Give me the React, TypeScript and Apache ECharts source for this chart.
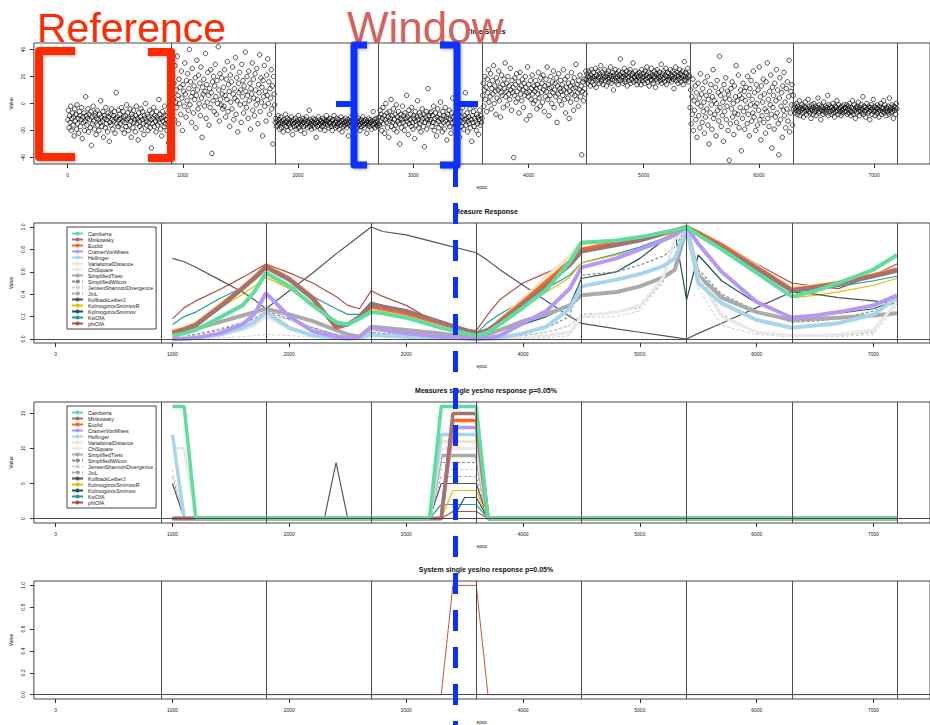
import React, { useEffect, useRef } from "react";
import * as echarts from "echarts";

const FONT = '"Liberation Sans", Arial, Helvetica, sans-serif';

// ---------- Panel 1: time series (values read per 900-epoch segment) ----------
const segStarts = [0, 900, 1800, 2700, 3600, 4500, 5400, 6300];
const segLength = 900;
const tsSeg1 = [-12,-5,-18,-9,-14,-2,-20,-11,-7,-16,-10,-24,-4,-13,-8,-19,-1,-15,-11,-22,-6,-9,-17,-12,-3,-26,-10,-14,-7,-20,-13,5,-9,-16,-11,-4,-21,-8,-12,-18,-6,-31,-10,-15,-2,-13,-19,-9,-7,-23,-11,-5,-16,-12,-20,-8,-14,2,-10,-17,-13,-6,-25,-9,-11,-18,-3,-15,-12,-21,-7,-10,-28,-14,-8,-16,-4,-12,-19,-9,-13,-6,-22,-11,8,-15,-10,-17,-5,-12,
  -8,-15,-11,-3,-19,-13,-6,-10,-22,-14,-9,-17,-1,-12,-7,-20,-11,-16,-4,-13,-25,-8,-10,-18,-5,-14,-12,-21,-9,-2,-15,-11,-27,-7,-13,-17,-10,-4,-19,-12,-6,-15,-23,-9,-11,0,-16,-13,-8,-20,-10,-14,-5,-18,-12,-33,-7,-15,-11,-3,-17,-9,-13,-21,-6,-10,-16,-12,3,-14,-8,-19,-11,-24,-6,-13,-10,-17,-2,-15,-9,-12,-20,-7,-14,-29,-11,-5,-16,-10];
const tsSeg2 = [8,-6,20,3,15,-12,28,1,10,-3,35,6,-15,18,0,12,-8,24,4,-20,14,9,-2,30,7,-10,17,2,22,-5,11,40,-1,16,5,-14,26,8,-7,13,3,19,-18,6,32,10,-4,21,0,15,-9,27,4,-25,12,7,18,-2,9,37,-11,14,1,23,6,-16,11,-3,25,8,-37,16,2,20,-6,13,29,5,-8,17,0,42,10,-13,22,3,-1,19,7,-4,
  12,-2,25,6,-10,18,3,31,-6,14,9,-17,21,1,16,-4,27,7,-12,11,4,34,-8,19,2,-21,15,8,23,-1,10,-14,29,5,17,-7,13,0,38,9,-3,20,6,-11,24,2,15,-19,11,7,30,-5,18,4,-9,22,10,-1,26,3,-15,14,8,36,-6,19,1,12,-24,17,5,28,-2,9,-13,21,6,33,0,16,-8,11,4,25,-4,13,-30,20,7,-1];
const tsSeg3 = [-14,-11,-17,-13,-16,-9,-15,-12,-19,-14,-10,-18,-13,-15,-21,-12,-16,-14,-8,-17,-13,-11,-20,-15,-12,-16,-14,-18,-10,-13,-23,-15,-12,-17,-14,-11,-19,-16,-13,-15,-9,-18,-14,-12,-20,-16,-13,-15,-11,-17,-14,-22,-12,-16,-10,-15,-18,-13,-14,-5,-17,-12,-15,-19,-13,-16,-11,-14,-18,-12,-15,-25,-13,-17,-14,-10,-16,-12,-19,-15,-13,-17,-11,-14,-16,-12,-20,-15,-13,-9,
  -13,-16,-12,-18,-14,-11,-15,-17,-13,-20,-12,-15,-9,-16,-14,-18,-13,-11,-17,-15,-12,-19,-14,-16,-10,-13,-21,-15,-12,-17,-14,-16,-11,-13,-18,-15,-12,-24,-14,-16,-13,-10,-17,-15,-12,-19,-14,-13,-16,-8,-15,-12,-18,-14,-11,-16,-13,-20,-15,-12,-17,-14,-10,-16,-13,-18,-15,-12,-14,-22,-13,-16,-11,-15,-17,-12,-14,-19,-13,-16,-6,-15,-12,-18,-14,-11,-16,-13,-17,-15];
const tsSeg4 = [-10,-16,-5,-13,-8,-20,-11,-3,-15,-9,-22,-12,0,-14,-7,-18,-10,-25,-6,-13,-11,3,-17,-9,-14,-4,-19,-12,-8,-16,-1,-21,-10,-13,-6,-15,-30,-11,-8,-18,-12,-2,-14,-9,-20,-7,-16,-11,6,-13,-10,-23,-5,-15,-12,-8,-17,-3,-14,-19,-9,-11,-26,-6,-13,-16,-10,2,-12,-18,-7,-15,-9,-21,-13,-4,-11,-17,-8,-32,-14,-10,-6,-19,-12,11,-15,-9,-13,-7,
  -12,-6,-17,-9,-14,-2,-20,-11,-7,-15,-24,-10,-4,-13,-18,-8,-11,1,-16,-12,-21,-6,-14,-9,-19,-3,-13,-10,-27,-8,-15,-11,-5,-17,-12,-22,-7,-14,4,-10,-18,-13,-9,-16,-1,-12,-20,-8,-15,-11,-25,-6,-13,-17,-10,-3,-14,-19,-9,-12,8,-16,-11,-7,-21,-13,-10,-15,-4,-18,-12,-28,-9,-14,-6,-17,-11,-2,-13,-20,-8,-15,-10,-23,-12,-5,-16,-9,-14,-11];
const tsSeg5 = [6,15,-2,10,20,3,12,-6,18,8,25,1,14,5,22,-4,11,17,7,28,0,13,9,-8,19,4,16,10,24,2,12,-10,8,21,6,14,-3,18,11,30,5,9,15,-1,20,7,13,3,26,10,-5,17,8,12,-40,6,19,14,1,22,9,4,16,-7,11,23,7,13,2,18,10,-3,15,6,20,12,-12,8,27,5,14,9,-9,17,3,11,21,7,0,13,
  9,2,17,11,-4,14,7,23,4,12,-2,19,8,15,1,21,10,-6,13,5,18,9,27,3,14,-9,11,6,20,12,0,16,8,24,-3,10,15,5,19,-14,13,7,22,2,11,17,9,-1,14,6,25,10,3,18,-7,12,8,20,4,15,-11,9,13,1,23,7,16,11,-5,19,6,12,29,3,14,8,-2,17,10,21,5,13,-38,9,16,2,18,11,7,24];
const tsSeg6 = [18,22,15,20,24,17,19,13,21,25,16,19,23,14,20,18,26,12,21,17,24,19,15,22,20,28,16,18,23,14,21,19,25,17,20,13,22,18,24,16,19,21,27,15,20,18,23,10,21,17,25,19,16,22,20,14,24,18,21,33,17,19,23,15,20,22,26,16,18,21,24,13,19,20,17,23,25,15,21,18,22,30,16,20,19,24,17,21,14,22,
  20,16,23,18,21,14,25,19,17,22,20,15,24,18,21,27,16,19,23,13,20,22,18,26,17,21,15,19,24,20,12,22,18,25,16,21,19,23,17,20,29,15,22,18,24,19,16,21,26,14,20,23,18,22,17,19,25,21,16,20,24,18,11,22,19,27,17,21,23,15,20,18,25,22,16,19,21,24,14,20,31,18,23,17,22,19,26,16,21,20];
const tsSeg7 = [-3,10,-15,5,-8,18,-20,2,-5,13,-12,8,-25,0,15,-9,4,-18,22,-2,7,-14,11,-6,1,-22,16,-10,6,-4,20,-16,3,-30,9,-7,14,-1,-19,5,25,-11,2,-8,12,-24,0,17,-5,8,-13,35,-3,6,-17,10,-9,1,-28,14,-6,4,19,-12,-2,9,-20,7,-42,3,-15,11,-4,16,-10,0,-23,13,-7,5,28,-14,2,-8,21,-18,6,-3,10,-35,
  4,-11,15,-6,9,-19,2,12,-3,-15,20,-8,6,-24,11,-1,17,-13,3,-7,24,-10,8,-2,-20,14,0,-16,10,-5,27,-12,5,-27,13,-9,1,18,-14,7,-4,-22,16,-6,30,-11,3,-17,9,-1,21,-8,-33,12,-3,6,-19,15,-10,2,25,-7,10,-15,-38,4,19,-12,-2,8,-25,13,-5,23,-9,1,-18,11,-4,16,-13,5,32,-21,-7,9,-1,14,-16,6];
const tsSeg8 = [-4,-1,-7,-3,-5,0,-8,-2,-6,-4,2,-9,-3,-5,-1,-7,-4,-10,-2,-6,1,-3,-8,-5,-4,3,-6,-2,-7,-4,-11,-1,-5,-3,-8,0,-6,-4,-2,-9,-5,-3,4,-7,-1,-6,-4,-12,-2,-5,-3,-8,1,-6,-4,-2,-7,-5,-3,6,-9,-1,-4,-6,-2,-8,-3,-5,0,-7,-4,-10,-2,-6,-3,2,-5,-8,-1,-4,-6,-3,-9,-2,-5,-7,-4,-1,-6,-3,
  -3,-6,-1,-8,-4,-2,-7,0,-5,-9,-3,-6,2,-4,-8,-1,-5,-11,-3,-7,-2,-4,1,-6,-9,-3,-5,-1,-7,-4,5,-8,-2,-6,-3,-10,-5,0,-4,-7,-2,-6,-12,-3,-5,-1,-8,-4,3,-6,-2,-9,-5,-3,-7,-1,-4,-6,-10,-2,-5,0,-8,-3,-6,-4,2,-7,-1,-5,-9,-3,-4,-6,-2,-8,4,-5,-3,-7,-1,-6,-4,-11,-2,-5,-3,-8,0,-4];
const tsSegments = [tsSeg1, tsSeg2, tsSeg3, tsSeg4, tsSeg5, tsSeg6, tsSeg7, tsSeg8];

const changePoints = [900, 1800, 2700, 3600, 4500, 5400, 6300, 7200];
const xTicks = [0, 1000, 2000, 3000, 4000, 5000, 6000, 7000];
const yTicksTS = [-40, -20, 0, 20, 40];
const yTicksUnit = [0, 0.2, 0.4, 0.6, 0.8, 1.0];
const yTicksCount = [0, 5, 10, 15];

// ---------- Measures ----------
const measureNames = [
  "Camberra", "Minkowsky", "Euclid", "CramerVonMises", "Hellinger", "VariationalDistance",
  "ChiSquare", "SimplifiedTtest", "SimplifiedWilcox", "JensenShannonDivergence", "JinL",
  "KullbackLeiberJ", "KolmogorovSmirnovR", "KolmogorovSmirnov", "KsiOfA", "phiOfA",
];

// Panel 2: Measure Response
const respX = [1000,1100,1200,1400,1600,1700,1800,2000,2200,2400,2500,2600,2700,2800,3000,3300,3600,3700,3800,4000,4200,4400,4500,4800,5000,5200,5300,5400,5500,5700,6000,6300,6500,6700,7000,7200];
const respCamberra = [0.03,0.05,0.08,0.19,0.30,0.42,0.59, 0.47,0.30,0.15,0.13,0.18,0.24, 0.23,0.19,0.10,0.03, 0.06,0.13,0.28,0.44,0.69,0.86, 0.88,0.91,0.95,0.97,1.00, 0.93,0.80,0.59,0.38, 0.43,0.50,0.62,0.75];
const respMinkowsky = [0.05,0.08,0.12,0.28,0.45,0.54,0.64, 0.53,0.36,0.11,0.13,0.20,0.31, 0.29,0.25,0.15,0.05, 0.08,0.15,0.31,0.48,0.66,0.78, 0.84,0.88,0.94,0.97,1.00, 0.94,0.82,0.63,0.43, 0.46,0.49,0.56,0.61];
const respEuclid = [0.06,0.09,0.13,0.29,0.46,0.55,0.65, 0.54,0.37,0.10,0.13,0.19,0.29, 0.27,0.23,0.14,0.04, 0.07,0.16,0.33,0.51,0.69,0.80, 0.86,0.90,0.95,0.97,1.00, 0.95,0.84,0.64,0.44, 0.47,0.50,0.57,0.62];
const respCramerVonMises = [0.00,0.00,0.01,0.05,0.13,0.22,0.41, 0.20,0.07,0.02,0.01,0.02,0.10, 0.08,0.05,0.02,0.00, 0.01,0.03,0.14,0.25,0.45,0.64, 0.72,0.80,0.88,0.93,1.00, 0.85,0.60,0.33,0.19, 0.21,0.24,0.30,0.39];
const respHellinger = [0.00,0.00,0.01,0.04,0.10,0.15,0.24, 0.10,0.03,0.01,0.00,0.01,0.04, 0.03,0.02,0.01,0.00, 0.00,0.01,0.05,0.11,0.27,0.47, 0.53,0.58,0.65,0.72,1.00, 0.50,0.32,0.17,0.10, 0.12,0.14,0.22,0.37];
const respVariationalDistance = [0.07,0.10,0.14,0.30,0.45,0.53,0.62, 0.52,0.35,0.12,0.13,0.19,0.28, 0.26,0.22,0.13,0.04, 0.07,0.17,0.35,0.55,0.74,0.86, 0.87,0.90,0.95,0.97,1.00, 0.94,0.84,0.65,0.45, 0.47,0.51,0.57,0.63];
const respChiSquare = [0.00,0.01,0.01,0.03,0.08,0.12,0.20, 0.09,0.03,0.01,0.00,0.01,0.03, 0.03,0.02,0.01,0.00, 0.00,0.00,0.01,0.03,0.06,0.20, 0.24,0.30,0.55,0.90,1.00, 0.55,0.20,0.06,0.03, 0.03,0.04,0.08,0.33];
const respSimplifiedTtest = [0.03,0.06,0.09,0.15,0.21,0.24,0.27, 0.22,0.16,0.08,0.04,0.02,0.11, 0.10,0.08,0.05,0.01, 0.04,0.08,0.16,0.22,0.30,0.39, 0.42,0.47,0.55,0.62,1.00, 0.57,0.37,0.24,0.17, 0.18,0.19,0.21,0.23];
const respSimplifiedWilcox = [0.01,0.02,0.04,0.08,0.14,0.18,0.25, 0.18,0.10,0.04,0.02,0.02,0.06, 0.05,0.04,0.02,0.00, 0.01,0.02,0.05,0.10,0.20,0.57, 0.60,0.66,0.74,0.82,1.00, 0.62,0.40,0.25,0.15, 0.16,0.18,0.25,0.33];
const respJensenShannon = [0.00,0.00,0.00,0.01,0.02,0.03,0.04, 0.03,0.02,0.01,0.00,0.00,0.02, 0.02,0.01,0.00,0.00, 0.00,0.00,0.00,0.01,0.03,0.19, 0.20,0.25,0.50,0.92,1.00, 0.45,0.12,0.04,0.02, 0.02,0.02,0.04,0.30];
const respJinL = [0.01,0.02,0.04,0.09,0.15,0.18,0.23, 0.17,0.10,0.04,0.02,0.02,0.05, 0.04,0.03,0.01,0.00, 0.00,0.01,0.03,0.06,0.12,0.22, 0.24,0.28,0.52,0.88,1.00, 0.60,0.22,0.06,0.03, 0.03,0.03,0.06,0.35];
const respKullbackLeiberJ = [0.72,0.69,0.64,0.53,0.42,0.35,0.27, 0.43,0.59,0.76,0.84,0.92,1.00, 0.96,0.93,0.85,0.77, 0.70,0.62,0.48,0.34,0.20,0.14, 0.09,0.06,0.03,0.015,0.00, 0.05,0.14,0.28,0.42, 0.40,0.37,0.34,0.31];
const respKolmogorovSmirnovR = [0.06,0.09,0.13,0.27,0.40,0.47,0.55, 0.45,0.32,0.15,0.14,0.20,0.28, 0.26,0.22,0.13,0.04, 0.10,0.17,0.30,0.42,0.55,0.68, 0.75,0.80,0.90,0.95,1.00, 0.92,0.80,0.60,0.37, 0.39,0.42,0.48,0.54];
const respKolmogorovSmirnov = [0.05,0.08,0.12,0.27,0.44,0.53,0.63, 0.52,0.35,0.12,0.13,0.20,0.30, 0.28,0.24,0.14,0.05, 0.05,0.08,0.13,0.20,0.30,0.54, 0.60,0.72,0.88,0.95,0.35, 0.75,0.52,0.32,0.20, 0.21,0.23,0.27,0.35];
const respKsiOfA = [0.13,0.20,0.24,0.36,0.46,0.52,0.60, 0.48,0.38,0.27,0.22,0.22,0.33, 0.30,0.25,0.12,0.05, 0.15,0.22,0.34,0.45,0.57,0.68, 0.76,0.82,0.90,0.95,1.00, 0.93,0.82,0.62,0.42, 0.44,0.47,0.52,0.56];
const respPhiOfA = [0.18,0.28,0.34,0.44,0.55,0.61,0.67, 0.59,0.50,0.38,0.30,0.27,0.43, 0.38,0.30,0.12,0.075, 0.22,0.35,0.50,0.59,0.68,0.78, 0.85,0.90,0.95,0.97,1.00, 0.94,0.85,0.67,0.50, 0.47,0.45,0.57,0.67];
const respValues = [respCamberra, respMinkowsky, respEuclid, respCramerVonMises, respHellinger, respVariationalDistance, respChiSquare, respSimplifiedTtest, respSimplifiedWilcox, respJensenShannon, respJinL, respKullbackLeiberJ, respKolmogorovSmirnovR, respKolmogorovSmirnov, respKsiOfA, respPhiOfA];

// Panel 3: Measures single yes/no response
const yesX = [1000, 1100, 1200, 2300, 2400, 2500, 3200, 3300, 3400, 3500, 3600, 3700, 7200];
const yesCamberra = [16,16,0,0,0,0,0,16,16,16,16,0,0];
const yesMinkowsky = [0,0,0,0,0,0,0,0,15,15,15,0,0];
const yesEuclid = [0,0,0,0,0,0,0,0,14,14,14,0,0];
const yesCramerVonMises = [0,0,0,0,0,0,0,0,13,13,13,0,0];
const yesHellinger = [12,0,0,0,0,0,0,12,12,12,12,0,0];
const yesVariationalDistance = [0,0,0,0,0,0,0,11,11,11,11,0,0];
const yesChiSquare = [10,10,0,0,0,0,0,10,10,10,10,0,0];
const yesSimplifiedTtest = [0,0,0,0,0,0,0,9,9,9,9,0,0];
const yesSimplifiedWilcox = [0,0,0,0,0,0,0,8,8,8,8,0,0];
const yesJensenShannon = [7,0,0,0,0,0,0,7,7,7,7,0,0];
const yesJinL = [6,0,0,0,0,0,0,6,6,6,6,0,0];
const yesKullbackLeiberJ = [5,0,0,0,8,0,0,5,5,5,5,0,0];
const yesKolmogorovSmirnovR = [0,0,0,0,0,0,0,0,4,4,4,0,0];
const yesKolmogorovSmirnov = [0,0,0,0,0,0,0,0,0,3,3,0,0];
const yesKsiOfA = [0,0,0,0,0,0,0,2,2,2,2,0,0];
const yesPhiOfA = [0,0,0,0,0,0,0,0,1,1,1,0,0];
const yesValues = [yesCamberra, yesMinkowsky, yesEuclid, yesCramerVonMises, yesHellinger, yesVariationalDistance, yesChiSquare, yesSimplifiedTtest, yesSimplifiedWilcox, yesJensenShannon, yesJinL, yesKullbackLeiberJ, yesKolmogorovSmirnovR, yesKolmogorovSmirnov, yesKsiOfA, yesPhiOfA];

// Panel 4: System single yes/no response
const sysX = [1000, 3300, 3400, 3600, 3700, 7200];
const sysY = [0, 0, 1, 1, 0, 0];

// ---------- Styles ----------
const measureStyles = [
  { color: "#5fdc9e", width: 4, type: "solid" },
  { color: "#a07474", width: 4, type: "solid" },
  { color: "#ff6a1a", width: 4, type: "solid" },
  { color: "#b797f5", width: 4, type: "solid" },
  { color: "#a8d5eb", width: 4, type: "solid" },
  { color: "#efe6c6", width: 4, type: "solid" },
  { color: "#e9e9e9", width: 3, type: "solid" },
  { color: "#aaaaaa", width: 4, type: "solid" },
  { color: "#8a8a8a", width: 1.2, type: [3, 2] },
  { color: "#cfcfcf", width: 1, type: [3, 2] },
  { color: "#a5a5a5", width: 1, type: [3, 2] },
  { color: "#555555", width: 1.2, type: "solid" },
  { color: "#e2bf00", width: 1.2, type: "solid" },
  { color: "#1d5656", width: 1.2, type: "solid" },
  { color: "#1f9e9e", width: 1.2, type: "solid" },
  { color: "#b0504a", width: 1.2, type: "solid" },
];

const panels = [
  { top: 43, height: 121, xmin: -292, xmax: 7485, ymin: -44.8, ymax: 44.8, yticks: yTicksTS, fmt: (v: number) => String(v), title: "Time Series" },
  { top: 223, height: 120, xmin: -186, xmax: 7483, ymin: -0.036, ymax: 1.036, yticks: yTicksUnit, fmt: (v: number) => v.toFixed(1), title: "Measure Response" },
  { top: 402, height: 121, xmin: -186, xmax: 7483, ymin: -0.64, ymax: 16.64, yticks: yTicksCount, fmt: (v: number) => String(v), title: "Measures single yes/no response p=0.05%" },
  { top: 581, height: 121, xmin: -186, xmax: 7483, ymin: -0.04, ymax: 1.04, yticks: yTicksUnit, fmt: (v: number) => v.toFixed(1), title: "System single yes/no response p=0.05%" },
];

function refLines(withZero: boolean) {
  return {
    silent: true,
    symbol: "none",
    animation: false,
    label: { show: false },
    lineStyle: { color: "#4a4a4a", width: 1, type: "solid" },
    data: [
      ...changePoints.map((x) => ({ xAxis: x })),
      ...(withZero ? [{ yAxis: 0 }] : []),
    ],
  };
}

function buildOption() {
  const grid = panels.map((p) => ({
    left: 33, top: p.top, width: 906, height: p.height,
    show: true, borderColor: "#444", borderWidth: 1, backgroundColor: "rgba(0,0,0,0)",
  }));
  const xAxis = panels.map((p, i) => ({
    type: "value", gridIndex: i, min: p.xmin, max: p.xmax,
    axisLine: { show: false, onZero: false }, splitLine: { show: false },
    axisTick: { show: true, length: 4, customValues: xTicks, lineStyle: { color: "#333" } },
    axisLabel: { customValues: xTicks, fontSize: 5, color: "#222", margin: 8, fontFamily: FONT, formatter: (v: number) => String(v) },
    name: "epoc", nameLocation: "middle", nameGap: 20,
    nameTextStyle: { fontSize: 5, color: "#222", fontFamily: FONT },
  }));
  const yAxis = panels.map((p, i) => ({
    type: "value", gridIndex: i, min: p.ymin, max: p.ymax,
    axisLine: { show: false, onZero: false }, splitLine: { show: false },
    axisTick: { show: true, length: 4, customValues: p.yticks, lineStyle: { color: "#333" } },
    axisLabel: { customValues: p.yticks, rotate: 90, fontSize: 5, color: "#222", margin: 8, fontFamily: FONT, formatter: p.fmt },
    name: "Value", nameLocation: "middle", nameGap: 18,
    nameTextStyle: { fontSize: 5, color: "#222", fontFamily: FONT },
  }));

  const series: any[] = [];
  series.push({
    type: "scatter", xAxisIndex: 0, yAxisIndex: 0, silent: true,
    symbol: "circle", symbolSize: 4.5,
    itemStyle: { color: "rgba(0,0,0,0)", borderColor: "#000", borderWidth: 0.85 },
    data: tsSegments.flatMap((seg, k) =>
      seg.map((v, i) => [segStarts[k] + ((i + 0.5) * segLength) / seg.length, v])
    ),
    markLine: refLines(false),
  });

  for (let k = measureNames.length - 1; k >= 0; k--) {
    const st = measureStyles[k];
    series.push({
      name: measureNames[k], type: "line", xAxisIndex: 1, yAxisIndex: 1,
      symbol: "none", silent: true, z: k === 0 ? 3 : 2,
      lineStyle: { color: st.color, width: st.width, type: st.type },
      itemStyle: { color: st.color },
      data: respX.map((x, i) => [x, respValues[k][i]]),
      ...(k === measureNames.length - 1 ? { markLine: refLines(true) } : {}),
    });
  }
  for (let k = measureNames.length - 1; k >= 0; k--) {
    const st = measureStyles[k];
    series.push({
      name: measureNames[k], type: "line", xAxisIndex: 2, yAxisIndex: 2,
      symbol: "none", silent: true, z: k === 0 ? 3 : 2,
      lineStyle: { color: st.color, width: st.width === 4 ? 3.5 : st.width, type: st.type },
      itemStyle: { color: st.color },
      data: yesX.map((x, i) => [x, yesValues[k][i]]),
      ...(k === 0 ? { markLine: refLines(true) } : {}),
    });
  }
  series.push({
    name: "System", type: "line", xAxisIndex: 3, yAxisIndex: 3,
    symbol: "none", silent: true,
    lineStyle: { color: "#c8553d", width: 1 },
    data: sysX.map((x, i) => [x, sysY[i]]),
    markLine: refLines(true),
  });

  const legendBase = {
    show: true, orient: "vertical", left: 67,
    padding: [4, 3, 3, 4], itemGap: 1, itemWidth: 11, itemHeight: 5,
    borderColor: "#444", borderWidth: 1, backgroundColor: "#fff",
    selectedMode: false,
    textStyle: { fontSize: 5.3, color: "#222", fontFamily: FONT },
    data: measureNames,
  };
  const legend = [
    { ...legendBase, top: 227 },
    { ...legendBase, top: 406 },
  ];

  const titleTexts = panels.map((p) => ({
    type: "text", x: 486, y: p.top - 12, z: 50, silent: true,
    style: { text: p.title, fontSize: 7, fontWeight: "bold", fontFamily: FONT, fill: "#111", align: "center", verticalAlign: "middle" },
  }));

  const shadow = { shadowBlur: 3, shadowColor: "rgba(0,0,0,0.3)", shadowOffsetX: 1, shadowOffsetY: 1 };
  const red = "#ff2a00";
  const blue = "#0a30ff";
  const annotations = [
    { type: "text", x: 37, y: 28, z: 100, silent: true,
      style: { text: "Reference", fontSize: 41, fontFamily: FONT, fill: red, align: "left", verticalAlign: "middle" } },
    { type: "text", x: 347, y: 27, z: 100, silent: true,
      style: { text: "Window", fontSize: 44, fontFamily: FONT, fill: "#d2625b", align: "left", verticalAlign: "middle" } },
    { type: "polyline", z: 100, silent: true, shape: { points: [[75, 51], [39, 51], [39, 157], [75, 157]] },
      style: { stroke: red, lineWidth: 8, fill: "none", lineJoin: "round", ...shadow } },
    { type: "polyline", z: 100, silent: true, shape: { points: [[148, 52], [171, 52], [171, 158], [148, 158]] },
      style: { stroke: red, lineWidth: 8, fill: "none", lineJoin: "round", ...shadow } },
    { type: "polyline", z: 100, silent: true, shape: { points: [[367, 45], [354, 45], [354, 165], [367, 165]] },
      style: { stroke: blue, lineWidth: 7, fill: "none", lineJoin: "round", ...shadow } },
    { type: "polyline", z: 100, silent: true, shape: { points: [[336, 104], [354, 104]] },
      style: { stroke: blue, lineWidth: 6, fill: "none" } },
    { type: "polyline", z: 100, silent: true, shape: { points: [[440, 45], [457, 45], [457, 165], [440, 165]] },
      style: { stroke: blue, lineWidth: 7, fill: "none", lineJoin: "round", ...shadow } },
    { type: "polyline", z: 100, silent: true, shape: { points: [[457, 104], [478, 104]] },
      style: { stroke: blue, lineWidth: 6, fill: "none" } },
    { type: "line", z: 100, silent: true, shape: { x1: 455.5, y1: 166, x2: 455.5, y2: 730 },
      style: { stroke: blue, lineWidth: 5, lineDash: [21, 16] } },
  ];

  return {
    animation: false,
    backgroundColor: "#ffffff",
    textStyle: { fontFamily: FONT },
    grid, xAxis, yAxis, series, legend,
    graphic: [...titleTexts, ...annotations],
  };
}

export default function App() {
  const ref = useRef<HTMLDivElement>(null);
  useEffect(() => {
    if (!ref.current) return;
    const chart = echarts.init(ref.current, null, { renderer: "svg", width: 930, height: 725 });
    chart.setOption(buildOption() as any);
    return () => chart.dispose();
  }, []);
  return (
    <div
      ref={ref}
      style={{ position: "fixed", left: 0, top: 0, width: 930, height: 725, background: "#fff" }}
    />
  );
}
